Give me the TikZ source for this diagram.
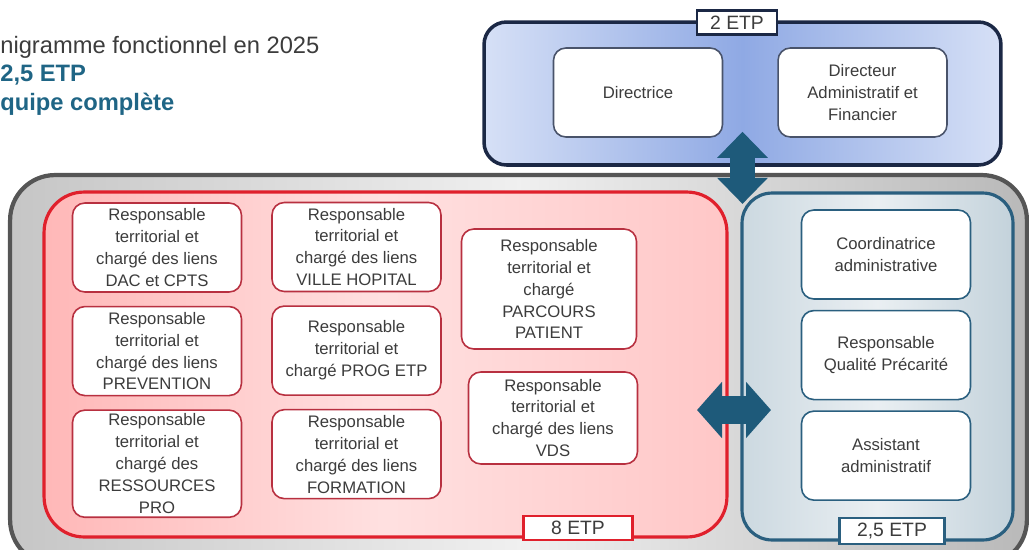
\documentclass[tikz,border=0pt]{standalone}
\usepackage{fontspec}
\setmainfont{Liberation Sans}
\usetikzlibrary{positioning,arrows.meta}

\definecolor{txtgray}{HTML}{3C3C3C}
\definecolor{titleblue}{HTML}{1F6585}
\definecolor{navyline}{HTML}{1B2845}
\definecolor{redline}{HTML}{E0202C}
\definecolor{boxred}{HTML}{B83040}
\definecolor{tealline}{HTML}{2A5F7F}
\definecolor{arrowblue}{HTML}{1E5A7A}
\definecolor{frameline}{HTML}{555555}
\definecolor{bluepale}{HTML}{D6E0F6}
\definecolor{bluemid}{HTML}{8FA9E4}

\tikzset{
  poste/.style={draw, rounded corners=7pt, fill=white, align=center, inner sep=2pt,
    text=txtgray, font=\fontsize{9.5}{12.5}\selectfont, line width=0.9pt,
    minimum width=3.38cm, minimum height=1.78cm},
  posteblue/.style={poste, draw=navyline!80},
  postered/.style={poste, draw=boxred},
  posteteal/.style={poste, draw=tealline},
  etp/.style={draw, fill=white, line width=1.6pt, inner sep=1pt, text=txtgray,
    font=\fontsize{11}{13}\selectfont, minimum height=0.48cm},
  bigarrow/.style={draw=arrowblue, line width=0.5cm},
}

\begin{document}
\begin{tikzpicture}[x=0.02cm, y=-0.02cm]
\useasboundingbox (0,0) rectangle (1029,549);

% title (cut on the left)
\node (titre) [anchor=base west, inner sep=0pt, text=txtgray,
  font=\fontsize{13.5}{16}\selectfont] at (0,53) {nigramme fonctionnel en 2025};
\node (etptotal) [anchor=base west, inner sep=0pt, text=titleblue,
  font=\fontsize{13.5}{16}\selectfont\bfseries] at (0,81.5) {2,5 ETP};
\node (equipe) [anchor=base west, inner sep=0pt, text=titleblue,
  font=\fontsize{13.5}{16}\selectfont\bfseries] at (0,110) {quipe complète};

% containers
\node (cadre) [draw=frameline, line width=2.4pt, rounded corners=0.9cm,
  left color=gray!45, right color=gray!55, middle color=gray!12,
  minimum width=20.34cm, minimum height=7.8cm] at (518.5,370) {};
\node (direction) [draw=navyline, line width=2pt, rounded corners=0.45cm,
  left color=bluepale, right color=bluepale, middle color=bluemid,
  minimum width=10.34cm, minimum height=2.86cm] at (742.5,93.5) {};
\node (territoire) [draw=redline, line width=1.8pt, rounded corners=0.8cm,
  left color=red!28!white, right color=red!22!white, middle color=red!12!white,
  minimum width=13.66cm, minimum height=6.9cm] at (385.5,364.5) {};
\node (admin) [draw=tealline, line width=1.8pt, rounded corners=0.6cm,
  left color=tealline!24!white, right color=tealline!28!white, middle color=tealline!10!white,
  minimum width=5.42cm, minimum height=6.94cm] at (877.5,366.5) {};

% direction
\node (directrice) [posteblue] at (638,92.5) {Directrice};
\node (daf) [posteblue, right=1.08cm of directrice] {Directeur\\Administratif et\\Financier};

% responsables territoriaux
\node (dac) [postered] at (157,247.5) {Responsable\\territorial et\\chargé des liens\\DAC et CPTS};
\node (prevention) [postered, below=0.26cm of dac] {Responsable\\territorial et\\chargé des liens\\PREVENTION};
\node (ressources) [postered, below=0.26cm of prevention, minimum height=2.14cm] {Responsable\\territorial et\\chargé des\\RESSOURCES\\PRO};
\node (ville) [postered] at (356.5,247) {Responsable\\territorial et\\chargé des liens\\VILLE HOPITAL};
\node (prog) [postered, below=0.26cm of ville] {Responsable\\territorial et\\chargé PROG ETP};
\node (formation) [postered, below=0.26cm of prog] {Responsable\\territorial et\\chargé des liens\\FORMATION};
\node (parcours) [postered, minimum width=3.5cm, minimum height=2.4cm] at (549,289) {Responsable\\territorial et\\chargé\\PARCOURS\\PATIENT};
\node (vds) [postered, minimum height=1.84cm] at (553,418) {Responsable\\territorial et\\chargé des liens\\VDS};

% pole administratif
\node (coordinatrice) [posteteal] at (886,254.5) {Coordinatrice\\administrative};
\node (qualite) [posteteal, below=0.2cm of coordinatrice] {Responsable\\Qualité Précarité};
\node (assistant) [posteteal, below=0.2cm of qualite] {Assistant\\administratif};

% ETP labels
\node (etpdir) [etp, draw=navyline, minimum width=1.6cm] at (737,22.5) {2 ETP};
\node (etpterr) [etp, draw=redline, minimum width=2.18cm] at (578,528) {8 ETP};
\node (etpadmin) [etp, draw=tealline, minimum width=2.1cm, minimum height=0.52cm] at (892,531) {2,5 ETP};

% liens entre poles
\coordinate (lienterr) at (727,410);
\coordinate (lienadmin) at (742,410);
\draw[bigarrow, {Triangle[width=0.98cm,length=0.52cm]}-{Triangle[width=0.98cm,length=0.52cm]},
  shorten <=-0.7cm, shorten >=-0.62cm] (direction.south) -- (direction.south |- cadre.north);
\draw[bigarrow, line width=0.56cm, {Triangle[width=1.1cm,length=0.5cm]}-{Triangle[width=1.1cm,length=0.5cm]},
  shorten <=-0.6cm, shorten >=-0.58cm] (lienterr) -- (lienadmin);
\end{tikzpicture}
\end{document}
